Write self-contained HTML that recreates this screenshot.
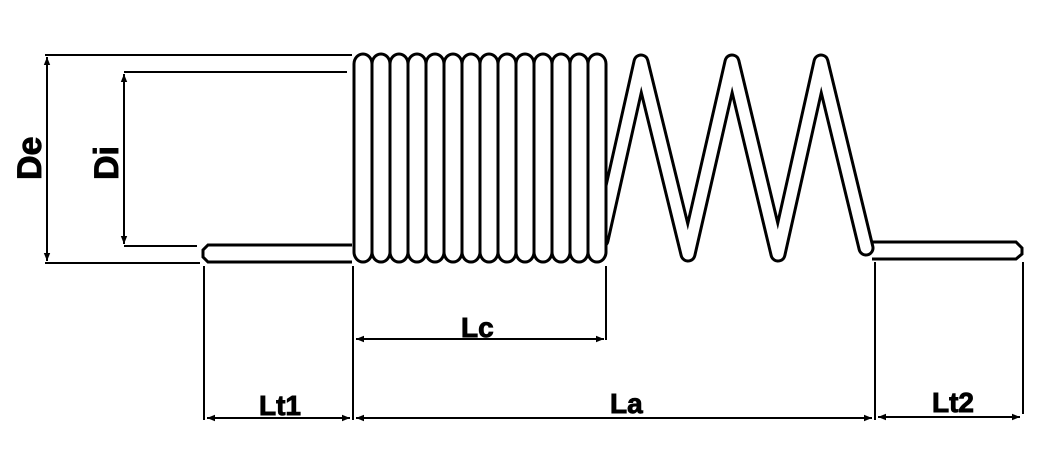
<!DOCTYPE html>
<html><head><meta charset="utf-8"><style>
html,body{margin:0;padding:0;background:#fff;}
svg{display:block;}
text{font-family:"Liberation Sans",Arial,sans-serif;font-weight:bold;fill:#000;stroke:#000;stroke-width:0.9;}
</style></head><body>
<svg width="1063" height="461" viewBox="0 0 1063 461" xmlns="http://www.w3.org/2000/svg">
<defs>
<marker id="a" viewBox="0 0 10 10" refX="10" refY="5" markerWidth="10" markerHeight="8" orient="auto-start-reverse" markerUnits="userSpaceOnUse"><path d="M0,1 L10,5 L0,9 z" fill="#000"/></marker>
</defs>
<g stroke="#000" stroke-width="2" fill="none">
<line x1="45" y1="55" x2="352" y2="55"/>
<line x1="45" y1="263" x2="200" y2="263"/>
<line x1="47" y1="57" x2="47" y2="261" marker-start="url(#a)" marker-end="url(#a)"/>
<line x1="124" y1="72" x2="347" y2="72"/>
<line x1="124" y1="246" x2="197" y2="246"/>
<line x1="124" y1="74" x2="124" y2="244" marker-start="url(#a)" marker-end="url(#a)"/>
<line x1="204" y1="266" x2="204" y2="420"/>
<line x1="353" y1="266" x2="353" y2="420"/>
<line x1="606" y1="266" x2="606" y2="340"/>
<line x1="875" y1="262" x2="875" y2="420"/>
<line x1="1023" y1="262" x2="1023" y2="414"/>
<line x1="356" y1="339" x2="604" y2="339" marker-start="url(#a)" marker-end="url(#a)"/>
<line x1="207" y1="418" x2="350" y2="418" marker-start="url(#a)" marker-end="url(#a)"/>
<line x1="356" y1="418" x2="872" y2="418" marker-start="url(#a)" marker-end="url(#a)"/>
<line x1="878" y1="417" x2="1020" y2="417" marker-start="url(#a)" marker-end="url(#a)"/>
</g>
<path d="M352,245 L208,245 L203,250 L203,257 L208,262 L352,262" stroke="#000" stroke-width="3" fill="#fff"/>
<path d="M872,242 L1016,242 L1022,248 L1022,254 L1016,259 L872,259" stroke="#000" stroke-width="3" fill="#fff"/>
<polyline points="601,240 641,62 688,254 732,62 778,254 821,62 866,248" fill="none" stroke="#000" stroke-width="17" stroke-linejoin="round" stroke-linecap="round"/>
<polyline points="601,240 641,62 688,254 732,62 778,254 821,62 866,248" fill="none" stroke="#fff" stroke-width="11" stroke-linejoin="round" stroke-linecap="round"/>
<g stroke="#000" stroke-width="3" fill="#fff">
<rect x="354" y="54" width="18" height="208" rx="9" ry="10"/>
<rect x="372" y="54" width="18" height="208" rx="9" ry="10"/>
<rect x="390" y="54" width="18" height="208" rx="9" ry="10"/>
<rect x="408" y="54" width="18" height="208" rx="9" ry="10"/>
<rect x="426" y="54" width="18" height="208" rx="9" ry="10"/>
<rect x="444" y="54" width="18" height="208" rx="9" ry="10"/>
<rect x="462" y="54" width="18" height="208" rx="9" ry="10"/>
<rect x="480" y="54" width="18" height="208" rx="9" ry="10"/>
<rect x="498" y="54" width="18" height="208" rx="9" ry="10"/>
<rect x="516" y="54" width="18" height="208" rx="9" ry="10"/>
<rect x="534" y="54" width="18" height="208" rx="9" ry="10"/>
<rect x="552" y="54" width="18" height="208" rx="9" ry="10"/>
<rect x="570" y="54" width="18" height="208" rx="9" ry="10"/>
<rect x="588" y="54" width="18" height="208" rx="9" ry="10"/>
</g>
<text font-size="34" transform="translate(41,180) rotate(-90)">De</text>
<text font-size="34" transform="translate(118,180) rotate(-90)">Di</text>
<text x="461" y="337" font-size="28">Lc</text>
<text x="259" y="415" font-size="28">Lt1</text>
<text x="610" y="413" font-size="28">La</text>
<text x="932" y="412" font-size="28">Lt2</text>
</svg>
</body></html>
